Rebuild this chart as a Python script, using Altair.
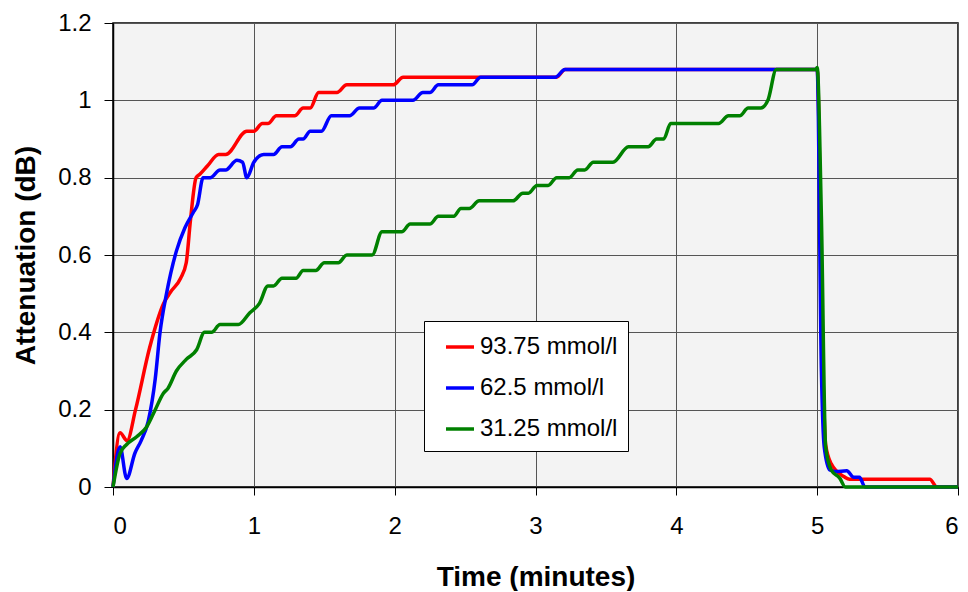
import altair as alt
import pandas as pd

# Series names and colours
names = ["93.75 mmol/l", "62.5 mmol/l", "31.25 mmol/l"]
colors = ["#ff0000", "#0000ff", "#008000"]

# 93.75 mmol/l
red_t = [0, 0.05, 0.1, 0.16, 0.26, 0.36, 0.41, 0.48, 0.52, 0.55, 0.59, 0.62, 0.67, 0.75, 0.8,
         0.95, 1.0, 1.06, 1.1, 1.16, 1.29, 1.35, 1.4, 1.46, 1.59, 1.66, 1.99, 2.06, 2.6, 3.15,
         3.21, 5.0, 5.04, 5.06, 5.1, 5.19, 5.23, 5.8, 5.85, 6.0]
red_v = [0, 0.14, 0.12, 0.2, 0.36, 0.475, 0.505, 0.54, 0.58, 0.69, 0.8, 0.81, 0.83, 0.86, 0.86,
         0.92, 0.92, 0.94, 0.94, 0.96, 0.96, 0.98, 0.98, 1.02, 1.02, 1.04, 1.04, 1.06, 1.06, 1.06,
         1.08, 1.08, 0.3, 0.11, 0.06, 0.027, 0.02, 0.02, 0, 0]

# 62.5 mmol/l
blue_t = [0, 0.05, 0.097, 0.156, 0.2, 0.25, 0.3, 0.334, 0.38, 0.45, 0.51, 0.57, 0.6, 0.64, 0.69,
          0.76, 0.8, 0.88, 0.92, 0.95, 1.0, 1.07, 1.14, 1.2, 1.26, 1.32, 1.35, 1.4, 1.48, 1.55,
          1.68, 1.75, 1.85, 1.91, 2.13, 2.2, 2.25, 2.31, 2.55, 2.61, 3.14, 3.21, 5.0, 5.03, 5.05,
          5.09, 5.13, 5.21, 5.26, 5.3, 5.34, 6.0]
blue_v = [0, 0.104, 0.022, 0.088, 0.12, 0.17, 0.28, 0.40, 0.50, 0.61, 0.67, 0.71, 0.73, 0.80, 0.80,
          0.82, 0.82, 0.845, 0.84, 0.80, 0.84, 0.86, 0.86, 0.88, 0.88, 0.90, 0.90, 0.92, 0.92, 0.96,
          0.96, 0.98, 0.98, 1.0, 1.0, 1.02, 1.02, 1.04, 1.04, 1.06, 1.06, 1.08, 1.08, 0.3, 0.104,
          0.044, 0.04, 0.042, 0.025, 0.025, 0, 0]

# 31.25 mmol/l
green_t = [0, 0.05, 0.097, 0.168, 0.24, 0.3, 0.357, 0.39, 0.45, 0.52, 0.594, 0.65, 0.70, 0.76,
           0.89, 0.97, 1.04, 1.10, 1.14, 1.2, 1.30, 1.35, 1.44, 1.5, 1.6, 1.66, 1.84, 1.91, 2.05,
           2.11, 2.25, 2.31, 2.42, 2.47, 2.53, 2.6, 2.84, 2.91, 2.95, 3.01, 3.09, 3.15, 3.24, 3.30,
           3.35, 3.41, 3.55, 3.66, 3.80, 3.86, 3.91, 3.96, 4.30, 4.37, 4.45, 4.51, 4.60, 4.65,
           4.71, 4.99, 5.0, 5.03, 5.06, 5.10, 5.16, 5.2, 6.0]
green_v = [0, 0.087, 0.11, 0.13, 0.156, 0.2, 0.242, 0.255, 0.30, 0.33, 0.355, 0.40, 0.40, 0.42,
           0.42, 0.45, 0.475, 0.52, 0.52, 0.54, 0.54, 0.56, 0.56, 0.58, 0.58, 0.60, 0.60, 0.66, 0.66,
           0.68, 0.68, 0.70, 0.70, 0.72, 0.72, 0.74, 0.74, 0.76, 0.76, 0.78, 0.78, 0.80, 0.80, 0.82,
           0.82, 0.84, 0.84, 0.88, 0.88, 0.90, 0.90, 0.94, 0.94, 0.96, 0.96, 0.98, 0.98, 1.0,
           1.08, 1.08, 1.085, 0.7, 0.104, 0.044, 0.023, 0, 0]

x_ticks = [0, 1, 2, 3, 4, 5, 6]
y_ticks = [0, 0.2, 0.4, 0.6, 0.8, 1.0, 1.2]

frames = []
for n, t, v in zip(names, [red_t, blue_t, green_t], [red_v, blue_v, green_v]):
    frames.append(pd.DataFrame({"series": n, "time": t, "att": v}))
df = pd.concat(frames, ignore_index=True)

FONT = "Liberation Sans"

base = alt.Chart(df).mark_line(interpolate="monotone", strokeWidth=3.5).encode(
    x=alt.X("time:Q", scale=alt.Scale(domain=[0, 6], nice=False),
            axis=alt.Axis(values=x_ticks, format="d", title="Time (minutes)",
                          tickSize=8, labelPadding=19, titlePadding=25)),
    y=alt.Y("att:Q", scale=alt.Scale(domain=[0, 1.2], nice=False),
            axis=alt.Axis(values=y_ticks, format=".1~f", title="Attenuation (dB)",
                          tickSize=9, labelPadding=13, titlePadding=17)),
    color=alt.Color("series:N", sort=names,
                    scale=alt.Scale(domain=names, range=colors),
                    legend=alt.Legend(title=None, orient="none", legendX=311, legendY=298,
                                      symbolType="stroke", symbolStrokeWidth=3.5,
                                      symbolSize=784, symbolOffset=10, labelOffset=4,
                                      labelFontSize=24, labelFont=FONT, labelColor="black",
                                      rowPadding=13, padding=10,
                                      strokeColor="black", fillColor="white")),
    order=alt.Order("time:Q"),
)

layers = [base.transform_filter(alt.datum.series == n) for n in names]

chart = alt.layer(*layers).properties(
    width=845, height=464,
    autosize=alt.AutoSizeParams(type="none"),
    padding={"left": 105, "top": 15, "right": 2, "bottom": 104},
).configure_view(
    fill="#f3f3f3", stroke="black", strokeWidth=1.5
).configure_axis(
    labelFont=FONT, labelFontSize=24, labelColor="black",
    titleFont=FONT, titleFontSize=28, titleFontWeight="bold", titleColor="black",
    gridColor="#555555", gridOpacity=1, gridWidth=1,
    tickColor="black", tickWidth=1,
    domainColor="black", domainWidth=1.5,
)

chart.save("out.html", embed_options={"renderer": "svg", "actions": False})
